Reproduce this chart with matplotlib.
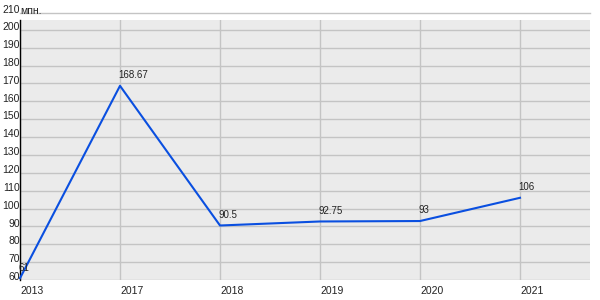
import matplotlib
matplotlib.use("Agg")
from matplotlib import pyplot as plt

years = ["2013", "2017", "2018", "2019", "2020", "2021"]
values = [61, 168.67, 90.5, 92.75, 93, 106]
labels = ["61", "168.67", "90.5", "92.75", "93", "106"]
yticks = [60, 70, 80, 90, 100, 110, 120, 130, 140, 150, 160, 170, 180, 190, 200]

plt.rcParams['font.family'] = ['Liberation Sans', 'DejaVu Sans']
fig = plt.figure(figsize=(6, 3), dpi=100)
ax = fig.add_axes([20/600, 20/300, 570/600, 260/300])
ax.set_facecolor('#ebebeb')
ax.set_xlim(0, 5.7)
ax.set_ylim(60, 205.5)

xs = list(range(len(years)))
ax.plot(xs, values, color='#0a4fe0', lw=1.5, zorder=3, clip_on=False)
for x, v, t in zip(xs, values, labels):
    ax.annotate(t, (x, v), xytext=(-1, 4), textcoords='offset points',
                fontsize=7, color='#222222', ha='left', va='bottom')

# grid
for y in yticks:
    ax.axhline(y, color='#c4c4c4', lw=1, zorder=1)
for x in xs:
    ax.axvline(x, color='#c4c4c4', lw=1, zorder=1)
# top 210 line outside plot area
ax.axhline(209.5, color='#c4c4c4', lw=1, clip_on=False)
ax.annotate("210", (0, 209.5), xycoords=ax.get_yaxis_transform(), xytext=(0, 2),
            textcoords='offset points', ha='right', va='center',
            fontsize=7.5, color='#222222', annotation_clip=False)
ax.annotate("мпн.", (0, 209.5), xycoords=ax.get_yaxis_transform(), xytext=(0, 1),
            textcoords='offset points', ha='left', va='center',
            fontsize=7.5, color='#222222', annotation_clip=False)

ax.set_xticks([])
ax.set_yticks([])
for y in yticks:
    ax.annotate(str(y), (0, y), xycoords=ax.get_yaxis_transform(), xytext=(0, 2),
                textcoords='offset points', ha='right', va='center',
                fontsize=7.5, color='#222222')
for x, yr in zip(xs, years):
    ax.text(x, -0.025, yr, transform=ax.get_xaxis_transform(), ha='left', va='top',
            fontsize=7.5, color='#222222')

for s in ['top', 'right', 'bottom']:
    ax.spines[s].set_visible(False)
ax.spines['left'].set_color('black')
ax.spines['left'].set_linewidth(1)

fig.savefig("out.png", dpi=100)
